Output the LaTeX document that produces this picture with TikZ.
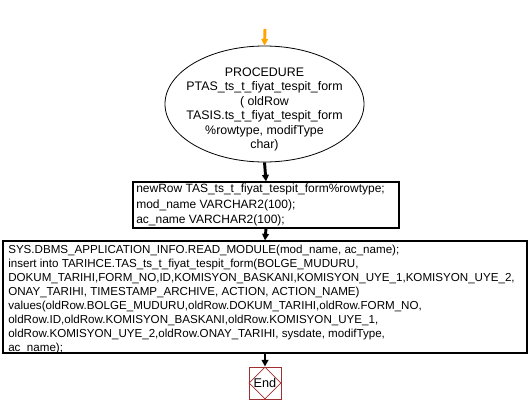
\documentclass[tikz,border=0pt]{standalone}
\usepackage{fontspec}
\setmainfont{Liberation Sans}
\usetikzlibrary{shapes.geometric,arrows.meta}
\definecolor{endred}{HTML}{A03030}
\definecolor{startorange}{HTML}{FFA500}
\tikzset{
  procbox/.style={draw, line width=0.8pt, inner sep=0pt, anchor=center},
  boxtext/.style={align=left, inner sep=0pt, anchor=north west},
  flowarrow/.style={line width=2.2pt, -{Triangle[length=5pt,width=5pt]}},
}
\begin{document}
\begin{tikzpicture}[x=0.75pt,y=-0.75pt]
\useasboundingbox (0,0) rectangle (529,414);
\coordinate (start) at (265,29);
\node[draw, ellipse, line width=0.6pt, minimum width=199*0.75pt, minimum height=116*0.75pt, inner sep=0pt] (proc) at (264.5,104) {};
\node[font=\fontsize{9.3}{10.8}\selectfont, align=center, inner sep=0pt] (proctext) at (264.5,109.5)
  {PROCEDURE\\PTAS\_ts\_t\_fiyat\_tespit\_form\\( oldRow\\TASIS.ts\_t\_fiyat\_tespit\_form\\\%rowtype, modifType\\char)};
\node[procbox, minimum width=266*0.75pt, minimum height=46*0.75pt] (decl) at (266,205) {};
\node[boxtext, font=\fontsize{9}{11.4}\selectfont] (decltext) at (136,184)
  {newRow TAS\_ts\_t\_fiyat\_tespit\_form\%rowtype;\\mod\_name VARCHAR2(100);\\ac\_name VARCHAR2(100);};
\node[procbox, minimum width=524*0.75pt, minimum height=112*0.75pt] (body) at (265,297) {};
\node[boxtext, font=\fontsize{8.7}{10.5}\selectfont] (bodytext) at (8,244.5)
  {SYS.DBMS\_APPLICATION\_INFO.READ\_MODULE(mod\_name, ac\_name);\\
insert into TARIHCE.TAS\_ts\_t\_fiyat\_tespit\_form(BOLGE\_MUDURU,\\
DOKUM\_TARIHI,FORM\_NO,ID,KOMISYON\_BASKANI,KOMISYON\_UYE\_1,KOMISYON\_UYE\_2,\\
ONAY\_TARIHI, TIMESTAMP\_ARCHIVE, ACTION, ACTION\_NAME)\\
values(oldRow.BOLGE\_MUDURU,oldRow.DOKUM\_TARIHI,oldRow.FORM\_NO,\\
oldRow.ID,oldRow.KOMISYON\_BASKANI,oldRow.KOMISYON\_UYE\_1,\\
oldRow.KOMISYON\_UYE\_2,oldRow.ONAY\_TARIHI, sysdate, modifType,\\
ac\_name);};
\node[draw=endred, line width=0.7pt, minimum size=32*0.75pt, inner sep=0pt] (endbox) at (265,383) {};
\node[draw=endred, diamond, line width=0.6pt, minimum size=32*0.75pt, inner sep=0pt, font=\fontsize{9.5}{11}\selectfont] (end) at (265,383) {End};
\draw[flowarrow, startorange] (start) -- (proc.north);
\draw[flowarrow] (proc.south) -- (decl.north);
\draw[flowarrow] (decl.south) -- (body.north);
\draw[flowarrow] (body.south) -- (endbox.north);
\end{tikzpicture}
\end{document}
